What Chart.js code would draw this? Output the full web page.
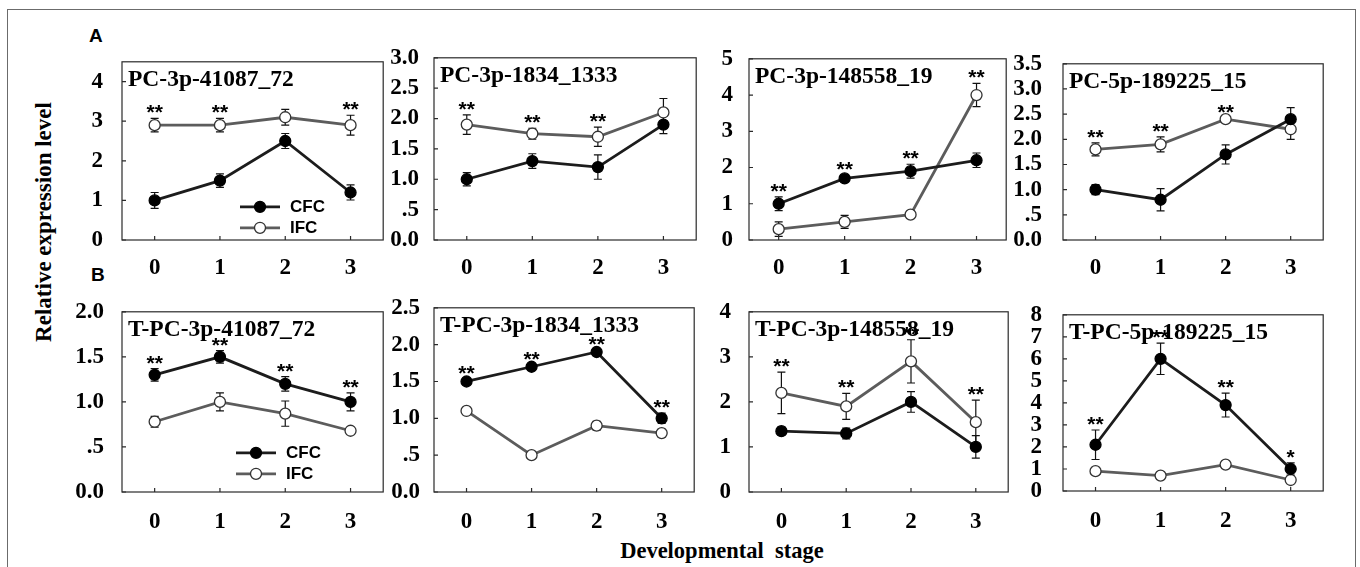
<!DOCTYPE html>
<html><head><meta charset="utf-8">
<script src="https://cdn.jsdelivr.net/npm/chart.js@4.4.1/dist/chart.umd.min.js"></script>
<style>
html,body{margin:0;padding:0;background:#fff;}
body{width:1360px;height:567px;position:relative;overflow:hidden;}
canvas{position:absolute;}
.lbl{position:absolute;white-space:pre;color:#000;}
</style></head><body>
<div style="position:absolute;left:7px;top:9px;width:1347px;height:620px;border:1.5px solid #6b6b6b;"></div>
<div class="lbl" style="left:89px;top:26px;font:bold 19px 'Liberation Sans',Arial,sans-serif;line-height:19px;">A</div>
<div class="lbl" style="left:91px;top:265px;font:bold 19px 'Liberation Sans',Arial,sans-serif;line-height:19px;">B</div>
<div class="lbl" style="left:-104px;top:207px;width:300px;height:30px;line-height:30px;text-align:center;font:bold 23px 'Liberation Serif','Times New Roman',serif;transform:rotate(-90deg);">Relative expression level</div>
<div class="lbl" style="left:522px;top:540px;width:400px;text-align:center;font:bold 22.5px 'Liberation Serif','Times New Roman',serif;line-height:22.5px;">Developmental  stage</div>
<script>
// ---------------- data ----------------
const stages = [0, 1, 2, 3];
const stageLabels = ['0', '1', '2', '3'];
const seriesNames = ['CFC', 'IFC'];
const panelTitles = ['PC-3p-41087_72', 'PC-3p-1834_1333', 'PC-3p-148558_19', 'PC-5p-189225_15',
  'T-PC-3p-41087_72', 'T-PC-3p-1834_1333', 'T-PC-3p-148558_19', 'T-PC-5p-189225_15'];
const cfcMean = [
  [1.0, 1.5, 2.5, 1.2],
  [1.0, 1.3, 1.2, 1.9],
  [1.0, 1.7, 1.9, 2.2],
  [1.0, 0.8, 1.7, 2.4],
  [1.3, 1.5, 1.2, 1.0],
  [1.5, 1.7, 1.9, 1.0],
  [1.35, 1.3, 2.0, 1.0],
  [2.1, 6.0, 3.9, 1.0]];
const cfcErr = [
  [0.2, 0.17, 0.19, 0.19],
  [0.11, 0.12, 0.2, 0.15],
  [0.19, 0.08, 0.19, 0.2],
  [0.1, 0.22, 0.19, 0.23],
  [0.07, 0.07, 0.08, 0.1],
  [0.04, 0.03, 0.03, 0.07],
  [0.09, 0.12, 0.23, 0.25],
  [0.67, 0.71, 0.54, 0.28]];
const ifcMean = [
  [2.9, 2.9, 3.1, 2.9],
  [1.9, 1.75, 1.7, 2.1],
  [0.3, 0.5, 0.7, 4.0],
  [1.8, 1.9, 2.4, 2.2],
  [0.78, 1.0, 0.87, 0.68],
  [1.1, 0.5, 0.9, 0.8],
  [2.2, 1.9, 2.9, 1.55],
  [0.9, 0.7, 1.2, 0.5]];
const ifcErr = [
  [0.17, 0.17, 0.2, 0.25],
  [0.16, 0.09, 0.16, 0.23],
  [0.2, 0.18, 0.05, 0.32],
  [0.13, 0.15, 0.03, 0.2],
  [0.06, 0.1, 0.14, 0.02],
  [0.02, 0.02, 0.06, 0.05],
  [0.46, 0.29, 0.48, 0.49],
  [0.03, 0.03, 0.04, 0.05]];
const sigMarks = [
  ['**', '**', '', '**'],
  ['**', '**', '**', ''],
  ['**', '**', '**', '**'],
  ['**', '**', '**', ''],
  ['**', '**', '**', '**'],
  ['**', '**', '**', '**'],
  ['**', '**', '**', '**'],
  ['**', '**', '**', '*']];
const yTickLabels = [
  ['0', '1', '2', '3', '4'],
  ['0.0', '.5', '1.0', '1.5', '2.0', '2.5', '3.0'],
  ['0', '1', '2', '3', '4', '5'],
  ['0.0', '.5', '1.0', '1.5', '2.0', '2.5', '3.0', '3.5'],
  ['0.0', '.5', '1.0', '1.5', '2.0'],
  ['0.0', '.5', '1.0', '1.5', '2.0', '2.5'],
  ['0', '1', '2', '3', '4'],
  ['0', '1', '2', '3', '4', '5', '6', '7', '8']];
const yMax = [4.5, 3, 5, 3.5, 2, 2.5, 4, 8];

// ---------------- layout ----------------
const areas = [ // chart area [left, top, right, bottom]
  [122, 52, 384, 240], [434, 52, 697, 240], [749, 52, 1007, 240], [1063, 52, 1324, 240],
  [122, 303, 384, 492], [434, 303, 695, 492], [749, 303, 1009, 492], [1063, 303, 1324, 491]];
const xPad = [0.5, 0.5, 0.45, 0.5, 0.5, 0.5, 0.5, 0.5];
const yLabelPad = [11, 7, 8, 13, 10, 6, 10, 13];
const xLabelPad = [6, 6, 6, 6, 8, 8, 8, 8];
const legendPos = {0: [118, 145], 4: [114, 141]};
const SERIF = "'Liberation Serif','Times New Roman',serif";
const SANS = "'Liberation Sans',Arial,sans-serif";
const styles = [
  {line: '#1c1c1c', fill: '#000000', edge: '#000000'},
  {line: '#5c5c5c', fill: '#ffffff', edge: '#333333'}];

function makePlugin(i) {
  return {
    id: 'decor' + i,
    beforeDatasetsDraw(chart) {
      const ctx = chart.ctx, xs = chart.scales.x, ys = chart.scales.y;
      ctx.save();
      ctx.strokeStyle = '#111';
      ctx.lineWidth = 1.2;
      chart.data.datasets.forEach(ds => {
        ds.data.forEach((pt, j) => {
          const e = ds.errors[j];
          const x = xs.getPixelForValue(pt.x);
          const y1 = ys.getPixelForValue(pt.y + e), y2 = ys.getPixelForValue(pt.y - e);
          ctx.beginPath();
          ctx.moveTo(x, y1); ctx.lineTo(x, y2);
          ctx.moveTo(x - 4, y1); ctx.lineTo(x + 4, y1);
          ctx.moveTo(x - 4, y2); ctx.lineTo(x + 4, y2);
          ctx.stroke();
        });
      });
      ctx.restore();
    },
    afterDraw(chart) {
      const ctx = chart.ctx, xs = chart.scales.x, ys = chart.scales.y, a = chart.chartArea;
      ctx.save();
      // frame
      ctx.strokeStyle = '#2a2a2a';
      ctx.lineWidth = 1.2;
      ctx.strokeRect(a.left, a.top, a.right - a.left, a.bottom - a.top);
      // inner ticks
      ctx.beginPath();
      ys.ticks.forEach(t => {
        const y = ys.getPixelForValue(t.value);
        ctx.moveTo(a.left, y); ctx.lineTo(a.left + 4, y);
      });
      xs.ticks.forEach(t => {
        const x = xs.getPixelForValue(t.value);
        ctx.moveTo(x, a.bottom); ctx.lineTo(x, a.bottom - 4);
      });
      ctx.stroke();
      // title
      ctx.fillStyle = '#000';
      ctx.font = 'bold 23.5px ' + SERIF;
      ctx.textAlign = 'left';
      ctx.textBaseline = 'alphabetic';
      ctx.fillText(panelTitles[i], a.left + 6, a.top + 24);
      // significance marks
      ctx.font = 'bold 21px ' + SANS;
      ctx.textAlign = 'center';
      stages.forEach((s, j) => {
        const mark = sigMarks[i][j];
        if (!mark) return;
        const top = Math.max(cfcMean[i][j] + cfcErr[i][j], ifcMean[i][j] + ifcErr[i][j]);
        ctx.fillText(mark, xs.getPixelForValue(s), ys.getPixelForValue(top) + 1);
      });
      // legend
      if (legendPos[i]) {
        const [lx, ly] = legendPos[i];
        seriesNames.forEach((name, k) => {
          const st = styles[k];
          const x0 = a.left + lx, y0 = a.top + ly + k * 21;
          ctx.strokeStyle = st.line;
          ctx.lineWidth = 2.8;
          ctx.beginPath(); ctx.moveTo(x0, y0); ctx.lineTo(x0 + 40, y0); ctx.stroke();
          ctx.beginPath(); ctx.arc(x0 + 20, y0, 5.5, 0, Math.PI * 2);
          ctx.fillStyle = st.fill; ctx.fill();
          ctx.strokeStyle = st.edge; ctx.lineWidth = 1.3; ctx.stroke();
          ctx.fillStyle = '#000';
          ctx.font = 'bold 17px ' + SANS;
          ctx.textAlign = 'left';
          ctx.textBaseline = 'middle';
          ctx.fillText(name, x0 + 50, y0 + 1);
        });
      }
      ctx.restore();
    }
  };
}

areas.forEach((ar, i) => {
  const [l, t, r, b] = ar;
  const cv = document.createElement('canvas');
  const W = (r - l) + 66, H = (b - t) + 15 + 45;
  cv.width = W; cv.height = H;
  cv.style.left = (l - 60) + 'px';
  cv.style.top = (t - 15) + 'px';
  cv.style.width = W + 'px'; cv.style.height = H + 'px';
  document.body.appendChild(cv);
  const means = [cfcMean[i], ifcMean[i]], errs = [cfcErr[i], ifcErr[i]];
  new Chart(cv, {
    type: 'line',
    data: {
      datasets: seriesNames.map((name, k) => ({
        label: name,
        data: stages.map((s, j) => ({x: s, y: means[k][j]})),
        errors: errs[k],
        borderColor: styles[k].line,
        borderWidth: 2.8,
        pointRadius: 5.5,
        pointBackgroundColor: styles[k].fill,
        pointBorderColor: styles[k].edge,
        pointBorderWidth: 1.3,
        tension: 0,
        order: k,
        clip: false
      }))
    },
    options: {
      responsive: false,
      animation: false,
      events: [],
      layout: {padding: {left: 0, top: 15, right: 6, bottom: 0}},
      plugins: {legend: {display: false}, tooltip: {enabled: false}},
      scales: {
        x: {
          type: 'linear',
          min: -xPad[i], max: 3 + xPad[i],
          afterBuildTicks: s => { s.ticks = stages.map(v => ({value: v})); },
          afterFit: s => { s.height = 45; },
          grid: {display: false},
          border: {display: false},
          ticks: {
            callback: (v, idx) => stageLabels[idx],
            font: {family: SERIF, size: 23, weight: 'bold'},
            color: '#000',
            padding: xLabelPad[i],
            maxRotation: 0,
            autoSkip: false
          }
        },
        y: {
          min: 0, max: yMax[i],
          afterBuildTicks: s => { s.ticks = yTickLabels[i].map(lb => ({value: parseFloat(lb)})); },
          afterFit: s => { s.width = 60; },
          grid: {display: false},
          border: {display: false},
          ticks: {
            callback: (v, idx) => yTickLabels[i][idx],
            font: {family: SERIF, size: 23, weight: 'bold'},
            color: '#000',
            padding: yLabelPad[i],
            autoSkip: false
          }
        }
      }
    },
    plugins: [makePlugin(i)]
  });
});
</script>
</body></html>
